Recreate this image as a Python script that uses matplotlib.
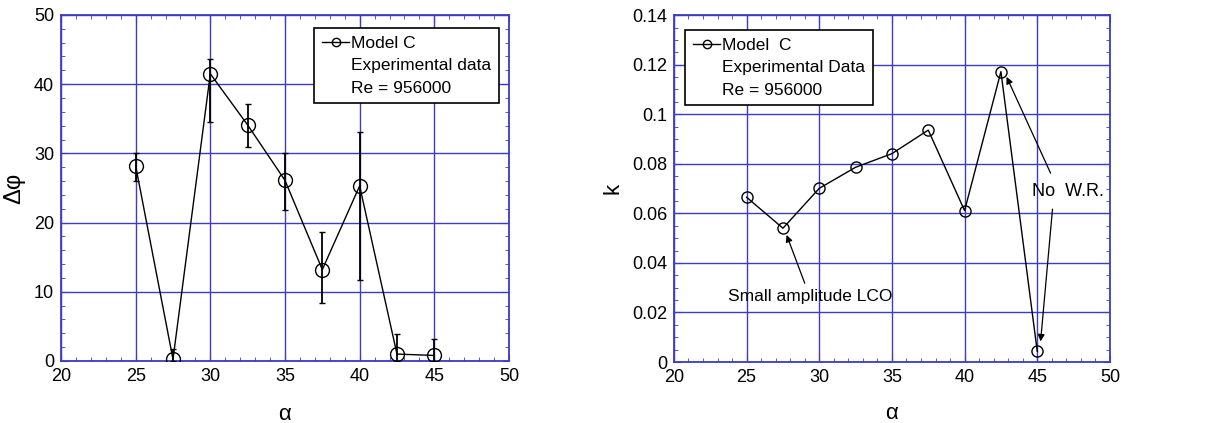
import matplotlib
matplotlib.use('Agg')
import matplotlib.pyplot as plt
from matplotlib.lines import Line2D
from matplotlib.ticker import MultipleLocator

plt.rcParams['font.family'] = ['Liberation Sans', 'DejaVu Sans']

# left panel: phase difference with error bars
alpha = [25, 27.5, 30, 32.5, 35, 37.5, 40, 42.5, 45]
dphi = [28.2, 0.25, 41.5, 34.1, 26.1, 13.2, 25.3, 1.0, 0.8]
dphi_lo = [26.0, 0.0, 34.6, 30.9, 21.8, 8.4, 11.7, 0.0, 0.0]
dphi_hi = [30.1, 1.8, 43.7, 37.1, 30.1, 18.7, 33.1, 3.9, 3.2]

# right panel: reduced frequency
k = [0.0665, 0.054, 0.0701, 0.0786, 0.0841, 0.0936, 0.0611, 0.1172, 0.0043]

blue = '#3c3cc4'

fig = plt.figure(figsize=(12.15, 4.23), dpi=100)
ax1 = fig.add_axes([0.0502, 0.1466, 0.3687, 0.818])
ax2 = fig.add_axes([0.5547, 0.1442, 0.3588, 0.820])


def style(ax, ymajor, yminor):
    ax.set_xlim(20, 50)
    ax.xaxis.set_major_locator(MultipleLocator(5))
    ax.xaxis.set_minor_locator(MultipleLocator(1))
    ax.yaxis.set_major_locator(MultipleLocator(ymajor))
    ax.yaxis.set_minor_locator(MultipleLocator(yminor))
    ax.grid(True, which='major', color=blue, lw=1.0)
    ax.set_axisbelow(True)
    for s in ax.spines.values():
        s.set_color(blue)
        s.set_linewidth(1.3)
    ax.tick_params(which='both', direction='in', top=True, right=True,
                   color=blue, labelsize=13, labelcolor='black', pad=5)
    ax.tick_params(which='major', length=5)
    ax.tick_params(which='minor', length=3)


lo = [d - l for d, l in zip(dphi, dphi_lo)]
hi = [h - d for d, h in zip(dphi, dphi_hi)]
ax1.errorbar(alpha, dphi, yerr=[lo, hi], color='black', lw=1.0, elinewidth=1.3,
             capsize=2, marker='o', ms=10, mfc='none', mec='black', mew=1.0,
             label='Model C', zorder=3)
ax1.set_ylim(0, 50)
style(ax1, 10, 2)
ax1.set_xlabel('α', fontsize=16, labelpad=14)
ax1.set_ylabel('Δφ', fontsize=17, labelpad=6)

h1 = Line2D([], [], color='black', lw=1.0, marker='o', ms=6, mfc='none', mec='black')
blank = Line2D([], [], linestyle='none')
leg = ax1.legend([h1, blank, blank], ['Model C', 'Experimental data', 'Re = 956000'],
                 loc='upper right', bbox_to_anchor=(0.978, 0.963), fontsize=12.5,
                 fancybox=False, edgecolor='black', framealpha=1,
                 handlelength=1.6, handletextpad=0.1, labelspacing=0.42,
                 borderpad=0.45, borderaxespad=0)
leg.get_frame().set_linewidth(1.2)

ax2.plot(alpha, k, color='black', lw=1.0, marker='o', ms=8, mfc='none',
         mec='black', mew=1.0, zorder=3)
ax2.set_ylim(0, 0.14)
style(ax2, 0.02, 0.005)
ax2.set_yticks([0, 0.02, 0.04, 0.06, 0.08, 0.1, 0.12, 0.14])
ax2.set_yticklabels(['0', '0.02', '0.04', '0.06', '0.08', '0.1', '0.12', '0.14'])
ax2.set_xlabel('α', fontsize=16, labelpad=12)
ax2.set_ylabel('k', fontsize=16, labelpad=6)

h2 = Line2D([], [], color='black', lw=1.0, marker='o', ms=6, mfc='none', mec='black')
leg2 = ax2.legend([h2, blank, blank], ['Model  C', 'Experimental Data', 'Re = 956000'],
                  loc='upper left', bbox_to_anchor=(0.025, 0.958), fontsize=12.5,
                  fancybox=False, edgecolor='black', framealpha=1,
                  handlelength=1.6, handletextpad=0.1, labelspacing=0.42,
                  borderpad=0.45, borderaxespad=0)
leg2.get_frame().set_linewidth(1.2)

arrow = dict(arrowstyle='-|>', color='black', lw=0.9, mutation_scale=10,
             shrinkA=0, shrinkB=0)
ax2.text(29.4, 0.0265, 'Small amplitude LCO', fontsize=12.5, ha='center', va='center')
ax2.annotate('', xy=(27.75, 0.0513), xytext=(29.0, 0.0318), arrowprops=arrow)
ax2.text(47.1, 0.0688, 'No  W.R.', fontsize=13, ha='center', va='center')
ax2.annotate('', xy=(42.89, 0.1151), xytext=(45.92, 0.0762), arrowprops=arrow)
ax2.annotate('', xy=(45.23, 0.0083), xytext=(46.05, 0.0617), arrowprops=arrow)

fig.savefig('out.png', dpi=100)
